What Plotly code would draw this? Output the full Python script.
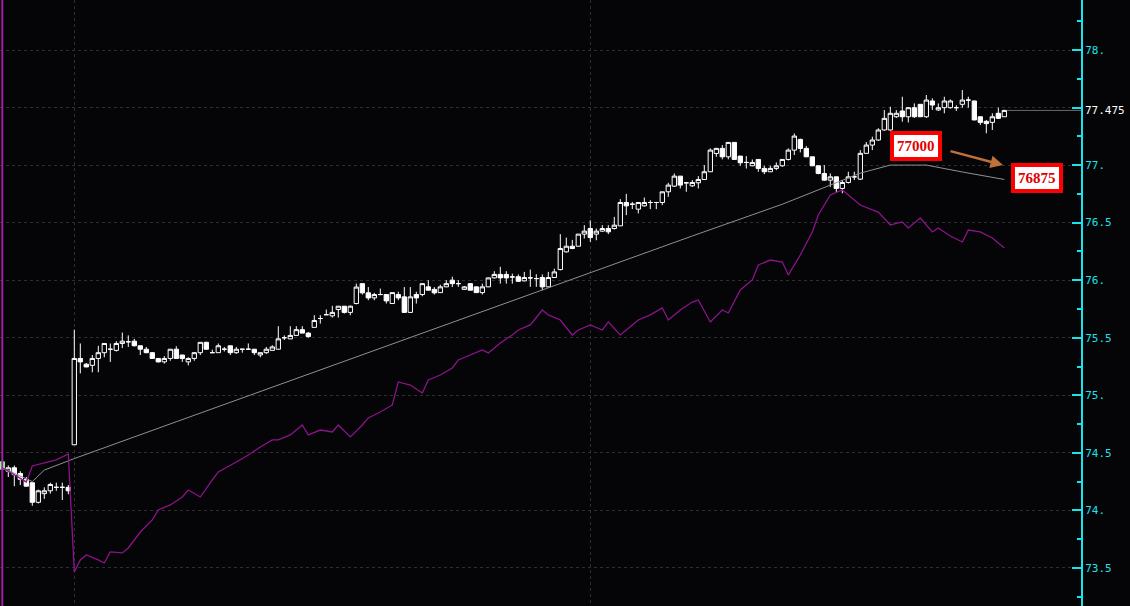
import plotly.graph_objects as go

# ---------------- data (price units, one entry per candle) ----------------
opens = [74.36, 74.34, 74.37, 74.32, 74.27, 74.24, 74.07, 74.145, 74.17, 74.2,
         74.2, 74.2, 74.57, 75.32, 75.27, 75.26, 75.32, 75.37, 75.4, 75.39,
         75.45, 75.465, 75.47, 75.43, 75.4, 75.37, 75.32, 75.29, 75.32, 75.4,
         75.35, 75.29, 75.32, 75.37, 75.46, 75.37, 75.37, 75.4, 75.43, 75.37,
         75.4, 75.4, 75.4, 75.35, 75.37, 75.39, 75.4, 75.5, 75.49, 75.52,
         75.57, 75.54, 75.59, 75.667, 75.7, 75.69, 75.745, 75.774, 75.72, 75.797,
         75.97, 75.89, 75.846, 75.875, 75.875, 75.797, 75.875, 75.855, 75.72, 75.875,
         75.875, 75.942, 75.92, 75.892, 75.942, 76.0, 75.97, 75.92, 75.97, 75.942,
         75.892, 75.942, 76.02, 76.05, 76.05, 76.028, 76.03, 75.994, 76.02, 76.014,
         76.023, 75.942, 76.023, 76.092, 76.246, 76.295, 76.295, 76.4, 76.449, 76.4,
         76.426, 76.449, 76.449, 76.472, 76.675, 76.66, 76.617, 76.646, 76.675, 76.675,
         76.675, 76.768, 76.817, 76.904, 76.846, 76.82, 76.846, 76.875, 76.942, 77.101,
         77.145, 77.072, 77.197, 77.078, 77.023, 76.994, 77.049, 76.971, 76.942, 76.971,
         76.994, 77.049, 77.13, 77.223, 77.145, 77.072, 76.994, 76.927, 76.869, 76.898,
         76.797, 76.849, 76.898, 76.878, 77.102, 77.174, 77.218, 77.305, 77.305, 77.42,
         77.47, 77.42, 77.499, 77.528, 77.42, 77.557, 77.479, 77.499, 77.499, 77.499,
         77.528, 77.565, 77.557, 77.42, 77.38, 77.371, 77.45, 77.42]
highs = [74.43, 74.39, 74.39, 74.34, 74.29, 74.24, 74.18, 74.2, 74.24, 74.24,
         74.24, 74.22, 75.57, 75.45, 75.28, 75.35, 75.43, 75.45, 75.45, 75.47,
         75.545, 75.52, 75.49, 75.43, 75.42, 75.375, 75.32, 75.34, 75.4, 75.426,
         75.35, 75.33, 75.375, 75.46, 75.465, 75.397, 75.45, 75.42, 75.43, 75.42,
         75.4, 75.45, 75.4, 75.37, 75.42, 75.435, 75.6, 75.52, 75.6, 75.6,
         75.6, 75.55, 75.696, 75.696, 75.745, 75.777, 75.774, 75.775, 75.78, 75.97,
         75.97, 75.94, 75.89, 75.927, 75.875, 75.892, 75.9, 75.94, 75.94, 75.9,
         75.97, 76.0, 75.94, 75.96, 76.0, 76.03, 76.0, 75.95, 75.97, 75.942,
         75.97, 76.02, 76.078, 76.116, 76.078, 76.057, 76.05, 76.072, 76.092, 76.052,
         76.05, 76.072, 76.1, 76.4, 76.37, 76.35, 76.4, 76.478, 76.52, 76.449,
         76.478, 76.478, 76.55, 76.704, 76.75, 76.68, 76.675, 76.718, 76.695, 76.68,
         76.768, 76.846, 76.927, 76.904, 76.846, 76.87, 76.904, 77.0, 77.145, 77.15,
         77.174, 77.2, 77.2, 77.08, 77.078, 77.049, 77.05, 76.994, 76.994, 77.023,
         77.05, 77.145, 77.275, 77.23, 77.165, 77.072, 76.994, 77.0, 76.927, 76.9,
         76.87, 76.942, 76.942, 77.13, 77.2, 77.247, 77.32, 77.478, 77.507, 77.478,
         77.594, 77.5, 77.536, 77.53, 77.609, 77.58, 77.536, 77.594, 77.57, 77.52,
         77.652, 77.594, 77.56, 77.42, 77.392, 77.45, 77.499, 77.48]
lows = [74.36, 74.29, 74.21, 74.22, 74.21, 74.04, 74.06, 74.1, 74.145, 74.17,
        74.09, 74.14, 74.57, 75.19, 75.245, 75.2, 75.2, 75.33, 75.29, 75.38,
        75.41, 75.42, 75.425, 75.35, 75.365, 75.315, 75.285, 75.275, 75.3, 75.32,
        75.29, 75.26, 75.3, 75.35, 75.395, 75.37, 75.37, 75.38, 75.35, 75.36,
        75.37, 75.4, 75.35, 75.33, 75.36, 75.39, 75.4, 75.48, 75.49, 75.52,
        75.54, 75.5, 75.59, 75.623, 75.7, 75.675, 75.675, 75.71, 75.695, 75.79,
        75.875, 75.826, 75.826, 75.875, 75.797, 75.797, 75.826, 75.718, 75.718, 75.797,
        75.86, 75.91, 75.875, 75.89, 75.94, 75.94, 75.942, 75.915, 75.913, 75.89,
        75.875, 75.94, 76.015, 75.97, 75.97, 75.97, 75.985, 75.99, 75.942, 75.942,
        75.913, 75.94, 76.02, 76.085, 76.24, 76.27, 76.295, 76.362, 76.333, 76.347,
        76.42, 76.4, 76.44, 76.47, 76.565, 76.617, 76.58, 76.64, 76.617, 76.617,
        76.652, 76.724, 76.81, 76.797, 76.768, 76.81, 76.797, 76.87, 76.94, 77.072,
        77.05, 77.05, 77.049, 76.994, 76.97, 76.99, 76.942, 76.921, 76.94, 76.956,
        76.985, 77.04, 77.087, 77.11, 77.07, 76.99, 76.92, 76.865, 76.811, 76.76,
        76.755, 76.84, 76.87, 76.87, 77.1, 77.13, 77.21, 77.3, 77.3, 77.41,
        77.377, 77.37, 77.41, 77.42, 77.41, 77.479, 77.47, 77.45, 77.49, 77.47,
        77.499, 77.499, 77.39, 77.348, 77.276, 77.305, 77.4, 77.42]
closes = [74.42, 74.37, 74.31, 74.27, 74.21, 74.07, 74.17, 74.17, 74.225, 74.2,
          74.2, 74.17, 75.32, 75.29, 75.246, 75.32, 75.37, 75.45, 75.4, 75.45,
          75.47, 75.465, 75.43, 75.4, 75.37, 75.32, 75.29, 75.32, 75.4, 75.32,
          75.32, 75.32, 75.37, 75.46, 75.4, 75.37, 75.43, 75.4, 75.37, 75.4,
          75.4, 75.4, 75.37, 75.37, 75.4, 75.42, 75.49, 75.5, 75.52, 75.57,
          75.54, 75.51, 75.65, 75.667, 75.7, 75.72, 75.774, 75.72, 75.774, 75.94,
          75.89, 75.846, 75.875, 75.875, 75.82, 75.892, 75.846, 75.72, 75.855, 75.846,
          75.97, 75.913, 75.89, 75.942, 75.97, 75.97, 75.97, 75.942, 75.913, 75.892,
          75.942, 76.02, 76.05, 76.02, 76.02, 76.028, 75.99, 76.023, 76.02, 76.014,
          75.942, 76.023, 76.072, 76.275, 76.295, 76.275, 76.4, 76.426, 76.37, 76.426,
          76.449, 76.42, 76.478, 76.675, 76.646, 76.66, 76.675, 76.675, 76.675, 76.675,
          76.768, 76.826, 76.904, 76.826, 76.846, 76.849, 76.875, 76.942, 77.13, 77.145,
          77.072, 77.197, 77.049, 77.02, 77.023, 77.023, 76.971, 76.942, 76.971, 76.994,
          77.049, 77.13, 77.252, 77.145, 77.072, 76.994, 76.927, 76.869, 76.898, 76.797,
          76.849, 76.898, 76.898, 77.102, 77.174, 77.218, 77.305, 77.406, 77.45, 77.45,
          77.42, 77.499, 77.42, 77.42, 77.565, 77.522, 77.499, 77.557, 77.557, 77.499,
          77.565, 77.565, 77.392, 77.371, 77.36, 77.42, 77.406, 77.475]

# average line (grey) vertices: candle index, price
grey_idx = [0, 5, 7, 12, 29, 58, 76, 88, 115, 130, 143, 148, 154, 160, 167]
grey_val = [74.37, 74.25, 74.35, 74.45, 74.77, 75.316, 75.655, 75.88, 76.384,
            76.66, 76.93, 77.0, 77.0, 76.94, 76.875]

# comparison line (purple) vertices: candle index, price
purple_idx = [0, 4, 5, 7, 9, 11, 12, 13, 14, 16, 17, 18, 20, 21, 23, 25, 26, 28, 30,
              31, 33, 35, 36, 39, 41, 43, 45, 46, 48, 50, 51, 53, 55, 56, 58, 60, 61,
              63, 65, 66, 68, 70, 71, 73, 75, 76, 78, 80, 81, 83, 85, 86, 88, 90, 91,
              93, 95, 96, 98, 100, 101, 103, 105, 106, 108, 110, 111, 113, 115, 116,
              118, 120, 121, 123, 125, 126, 128, 130, 131, 133, 135, 136, 138, 140,
              141, 143, 145, 146, 148, 150, 151, 153, 155, 156, 158, 160, 161, 163,
              165, 167]
purple_val = [74.37, 74.247, 74.386, 74.412, 74.438, 74.49, 73.465, 73.569, 73.613,
              73.569, 73.543, 73.639, 73.63, 73.673, 73.812, 73.917, 74.004, 74.047,
              74.116, 74.177, 74.116, 74.264, 74.334, 74.42, 74.481, 74.551, 74.612,
              74.612, 74.655, 74.742, 74.655, 74.698, 74.681, 74.742, 74.638, 74.742,
              74.803, 74.855, 74.916, 75.116, 75.089, 75.02, 75.133, 75.176, 75.237,
              75.307, 75.35, 75.394, 75.368, 75.454, 75.524, 75.567, 75.611, 75.741,
              75.698, 75.654, 75.524, 75.567, 75.611, 75.567, 75.637, 75.524, 75.611,
              75.654, 75.698, 75.758, 75.654, 75.741, 75.81, 75.828, 75.637, 75.741,
              75.715, 75.915, 76.002, 76.132, 76.175, 76.158, 76.045, 76.219, 76.419,
              76.566, 76.74, 76.784, 76.74, 76.653, 76.61, 76.592, 76.48, 76.506,
              76.454, 76.54, 76.419, 76.454, 76.384, 76.332, 76.436, 76.419, 76.367,
              76.28]

tick_vals = [73.5, 74.0, 74.5, 75.0, 75.5, 76.0, 76.5, 77.0, 77.5, 78.0]
tick_text = ["73.5", "74.", "74.5", "75.", "75.5", "76.", "76.5", "77.", "", "78."]
minor_vals = [73.25, 73.75, 74.25, 74.75, 75.25, 75.75, 76.25, 76.75, 77.25, 77.75, 78.25]
last_price = 77.475
label_a = "77000"
label_b = "76875"

# ---------------- figure ----------------
idx = list(range(len(opens)))
BG = "#050407"
CYAN = "#1ae4ea"

fig = go.Figure()
fig.add_trace(go.Scatter(x=grey_idx, y=grey_val, mode="lines",
                         line=dict(color="#909090", width=1), hoverinfo="skip"))
fig.add_trace(go.Scatter(x=purple_idx, y=purple_val, mode="lines",
                         line=dict(color="#8c148c", width=1.3), hoverinfo="skip"))
fig.add_trace(go.Candlestick(
    x=idx, open=opens, high=highs, low=lows, close=closes,
    increasing=dict(line=dict(color="white", width=1), fillcolor=BG),
    decreasing=dict(line=dict(color="white", width=1), fillcolor="white"),
    whiskerwidth=0, hoverinfo="skip"))
# first candle highlighted in green (drawn over the white one)
fig.add_trace(go.Candlestick(
    x=idx[:1], open=opens[:1], high=highs[:1], low=lows[:1], close=closes[:1],
    increasing=dict(line=dict(color="#7dff7d", width=1), fillcolor="#b4ffb4"),
    decreasing=dict(line=dict(color="#7dff7d", width=1), fillcolor="#b4ffb4"),
    whiskerwidth=0, hoverinfo="skip"))

# left magenta marker line
fig.add_shape(type="line", xref="x", yref="paper", x0=0, x1=0, y0=0, y1=1,
              line=dict(color="#a01ea0", width=2))
# last price line to the axis
fig.add_shape(type="line", xref="x", yref="y", x0=idx[-1] + 0.4, x1=179.78,
              y0=last_price, y1=last_price, line=dict(color="#6a6a6a", width=1))

fig.add_annotation(xref="paper", yref="y", x=1, y=last_price, xanchor="left",
                   xshift=2, text=f"{last_price:.3f}", showarrow=False,
                   font=dict(family="DejaVu Sans Mono", size=11, color="white"))

# arrow
fig.add_annotation(x=166.78, y=77.0, ax=157.78, ay=77.125, xref="x", yref="y",
                   axref="x", ayref="y", showarrow=True, arrowhead=2, arrowsize=1,
                   arrowwidth=2.5, arrowcolor="#c0703a", text="")

box_font = dict(family="Liberation Serif", size=15, color="#e00000")
fig.add_annotation(x=152.3, y=77.166, xref="x", yref="y", text=f"<b>{label_a}</b>",
                   showarrow=False, bgcolor="white", bordercolor="#ff0000",
                   borderwidth=4, borderpad=3, font=box_font)
fig.add_annotation(x=172.45, y=76.892, xref="x", yref="y", text=f"<b>{label_b}</b>",
                   showarrow=False, bgcolor="white", bordercolor="#ff0000",
                   borderwidth=4, borderpad=3, font=box_font)

fig.update_layout(
    width=1130, height=606, margin=dict(l=0, r=49, t=0, b=0),
    paper_bgcolor=BG, plot_bgcolor=BG, showlegend=False,
    boxgap=0.28, boxgroupgap=0,
    xaxis=dict(range=[-0.383, 179.78], rangeslider=dict(visible=False),
               showticklabels=False, tickmode="array", tickvals=[12, 98],
               showgrid=True, gridcolor="#2e2e2e", griddash="3px,3px", gridwidth=1,
               zeroline=False, showline=False, ticks=""),
    yaxis=dict(side="right", range=[73.169, 78.4344], tickmode="array",
               tickvals=tick_vals, ticktext=tick_text, showgrid=True,
               gridcolor="#2e2e2e", griddash="3px,3px", gridwidth=1, zeroline=False,
               showline=True, linecolor=CYAN, linewidth=2, ticks="inside",
               ticklen=9, tickwidth=2, tickcolor=CYAN,
               minor=dict(tickmode="array", tickvals=minor_vals, ticks="inside",
                          ticklen=4, tickwidth=2, tickcolor=CYAN, showgrid=False),
               tickfont=dict(family="DejaVu Sans Mono", size=11, color=CYAN)),
)

fig.write_html("out.html", config={"displayModeBar": False},
               post_script="document.body.style.margin='0';document.body.style.overflow='hidden';")
